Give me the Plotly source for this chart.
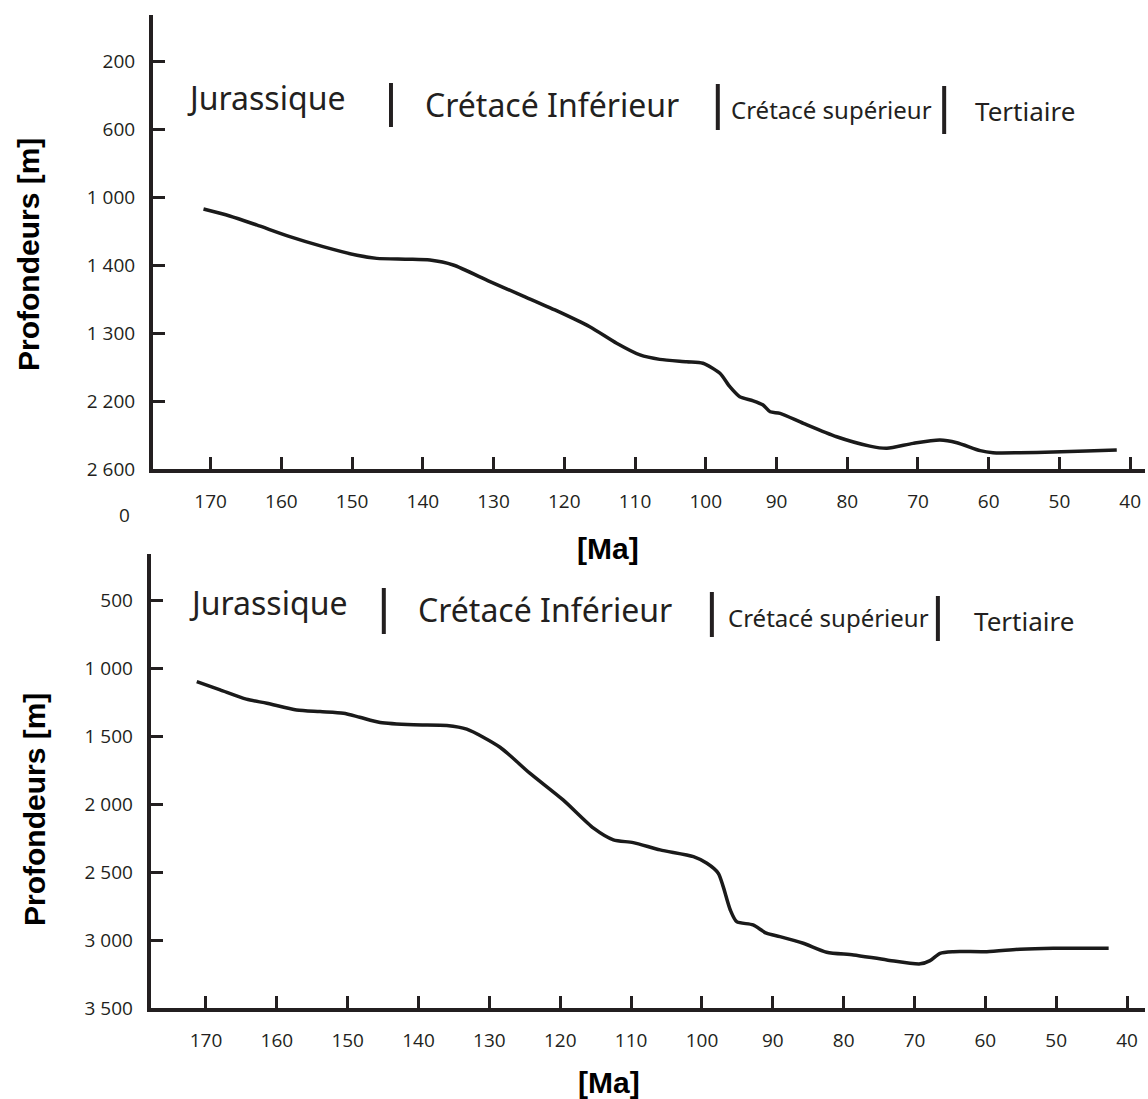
import plotly.graph_objects as go

# ---------------- data ----------------
ma_top = [171.0, 167.3, 163.5, 158.8, 154.1, 149.3, 146.5, 142.3, 139.0, 135.7, 130.5, 125.8,
          121.1, 116.4, 112.6, 109.3, 106.5, 102.7, 100.4, 98.0, 96.6, 95.2, 93.3, 91.9, 90.9,
          89.5, 86.2, 81.5, 76.8, 74.4, 70.7, 66.9, 64.5, 61.2, 59.4, 55.6, 50.9, 46.2, 41.9]
depth_top = [1068, 1109, 1162, 1231, 1290, 1341, 1359, 1364, 1369, 1398, 1496, 1581,
             1667, 1762, 1859, 1928, 1954, 1968, 1977, 2036, 2115, 2174, 2198, 2223, 2263,
             2272, 2331, 2410, 2465, 2478, 2449, 2429, 2445, 2492, 2504, 2504, 2500, 2494, 2488]

ma_bot = [171.3, 168.0, 164.3, 161.4, 157.2, 153.9, 150.6, 148.3, 145.4, 140.7, 136.0, 133.2,
          128.5, 124.3, 119.6, 115.3, 112.5, 109.7, 105.9, 101.2, 99.3, 97.7, 97.0, 96.0, 95.1,
          92.8, 90.9, 89.0, 85.7, 82.4, 78.6, 73.9, 69.2, 67.8, 66.4, 64.5, 59.8, 55.1, 50.4, 42.6]
depth_bot = [1097, 1158, 1226, 1256, 1305, 1317, 1329, 1359, 1398, 1415, 1420, 1447,
             1580, 1771, 1968, 2176, 2262, 2282, 2336, 2385, 2434, 2507, 2606, 2778, 2864,
             2888, 2949, 2974, 3023, 3089, 3109, 3146, 3175, 3151, 3097, 3085, 3085, 3067, 3060, 3060]

x_ticks = [170, 160, 150, 140, 130, 120, 110, 100, 90, 80, 70, 60, 50, 40]
x_ticktext = [str(v) for v in x_ticks]

y_top_ticks = [200, 600, 1000, 1400, 1800, 2200, 2600]
y_top_text = ["200", "600", "1 000", "1 400", "1 300", "2 200", "2 600"]

y_bot_ticks = [500, 1000, 1500, 2000, 2500, 3000, 3500]
y_bot_text = ["500", "1 000", "1 500", "2 000", "2 500", "3 000", "3 500"]

periods = ["Jurassique", "Crétacé Inférieur", "Crétacé supérieur", "Tertiaire"]
period_pos_top = [162.2, 121.7, 82.2, 54.9]
period_pos_bot = [161.2, 122.2, 82.1, 54.5]
boundaries_top = [144.5, 98.3, 66.3]
boundaries_bot = [144.9, 98.6, 66.7]

# ---------------- styling ----------------
INK = "#231f20"
W, H = 1148, 1099
TICKFONT = dict(family="Open Sans, Liberation Sans, sans-serif", size=19, color=INK)
TITLEFONT = dict(family="Liberation Sans, Arial, sans-serif", size=30, color="#000000")
PFONT = "Noto Sans, Open Sans, sans-serif"


def px_x(p):
    return p / W


def px_y(p):
    return 1 - p / H


fig = go.Figure()
fig.add_trace(go.Scatter(x=ma_top, y=depth_top, mode="lines", xaxis="x", yaxis="y",
                         line=dict(color="#1a1a1a", width=3.5, shape="spline", smoothing=0.7),
                         showlegend=False, hoverinfo="skip"))
fig.add_trace(go.Scatter(x=ma_bot, y=depth_bot, mode="lines", xaxis="x2", yaxis="y2",
                         line=dict(color="#1a1a1a", width=3.5, shape="spline", smoothing=0.7),
                         showlegend=False, hoverinfo="skip"))

axis_common = dict(showline=True, linecolor=INK, linewidth=4, showgrid=False, zeroline=False,
                   ticks="inside", tickcolor=INK, tickwidth=3, ticklen=12, tickfont=TICKFONT,
                   automargin=False)

fig.update_layout(
    width=W, height=H,
    margin=dict(l=0, r=0, t=0, b=0),
    paper_bgcolor="white", plot_bgcolor="white",
    xaxis=dict(axis_common, domain=[px_x(153), px_x(1145)], range=[178.14, 37.91],
               tickvals=x_ticks, ticktext=x_ticktext, anchor="y", ticklabelstandoff=12),
    yaxis=dict(axis_common, domain=[px_y(469), px_y(15)], range=[2600, -75],
               tickvals=y_top_ticks, ticktext=y_top_text, anchor="x", ticklabelstandoff=10),
    xaxis2=dict(axis_common, domain=[px_x(150.7), px_x(1145)], range=[177.8, 37.47],
                tickvals=x_ticks, ticktext=x_ticktext, anchor="y2", ticklabelstandoff=12),
    yaxis2=dict(axis_common, domain=[px_y(1008), px_y(554)], range=[3500, 157],
                tickvals=y_bot_ticks, ticktext=y_bot_text, anchor="x2", ticklabelstandoff=10),
)

ann = []
# axis titles
ann.append(dict(text="<b>Profondeurs [m]</b>", x=px_x(28), y=px_y(255), xref="paper", yref="paper",
                textangle=-90, showarrow=False, font=TITLEFONT, xanchor="center", yanchor="middle"))
ann.append(dict(text="<b>Profondeurs [m]</b>", x=px_x(34), y=px_y(810), xref="paper", yref="paper",
                textangle=-90, showarrow=False, font=TITLEFONT, xanchor="center", yanchor="middle"))
ann.append(dict(text="<b>[Ma]</b>", x=px_x(608), y=px_y(548), xref="paper", yref="paper",
                showarrow=False, font=TITLEFONT, xanchor="center", yanchor="middle"))
ann.append(dict(text="<b>[Ma]</b>", x=px_x(609), y=px_y(1082), xref="paper", yref="paper",
                showarrow=False, font=TITLEFONT, xanchor="center", yanchor="middle"))
ann.append(dict(text="0", x=px_x(125), y=px_y(515), xref="paper", yref="paper",
                showarrow=False, font=TICKFONT, xanchor="center", yanchor="middle"))

# period labels
sizes = [32, 32, 24, 26]
ys_top = [98, 104, 109, 111]
ys_bot = [602, 609, 617, 621]
for name, xt, xb, s, yt, yb in zip(periods, period_pos_top, period_pos_bot, sizes, ys_top, ys_bot):
    ann.append(dict(text=name, x=xt, y=px_y(yt), xref="x", yref="paper", showarrow=False,
                    font=dict(family=PFONT, size=s, color=INK), xanchor="center", yanchor="middle"))
    ann.append(dict(text=name, x=xb, y=px_y(yb), xref="x2", yref="paper", showarrow=False,
                    font=dict(family=PFONT, size=s, color=INK), xanchor="center", yanchor="middle"))
fig.update_layout(annotations=ann)

shapes = []
bar_y_top = [(83, 127), (84, 130), (86, 134)]
bar_y_bot = [(588, 634), (592, 637), (596, 641)]
for b, (y0, y1) in zip(boundaries_top, bar_y_top):
    shapes.append(dict(type="line", xref="x", yref="paper", x0=b, x1=b, y0=px_y(y0), y1=px_y(y1),
                       line=dict(color=INK, width=4)))
for b, (y0, y1) in zip(boundaries_bot, bar_y_bot):
    shapes.append(dict(type="line", xref="x2", yref="paper", x0=b, x1=b, y0=px_y(y0), y1=px_y(y1),
                       line=dict(color=INK, width=4)))
fig.update_layout(shapes=shapes)

fig.write_html("out.html", config={"displayModeBar": False},
               post_script="document.body.style.margin='0';document.body.style.overflow='hidden';")
